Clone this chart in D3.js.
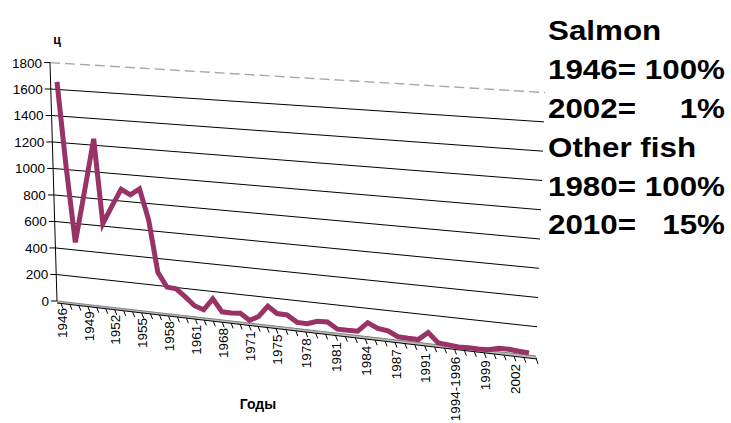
<!DOCTYPE html>
<html>
<head>
<meta charset="utf-8">
<script src="https://cdn.jsdelivr.net/npm/d3@7"></script>
<style>
  body { margin: 0; background: #fff; }
  text { font-family: "Liberation Sans", Arial, sans-serif; }
</style>
</head>
<body>
<script>
// категории (годы) и улов лосося, ц
const categories = ["1946","1947","1948","1949","1950","1951","1952","1953","1954","1955",
  "1956","1957","1958","1959","1960","1961","1963","1965","1968","1969",
  "1970","1971","1972","1974","1975","1976","1977","1978","1979","1980",
  "1981","1982","1983","1984","1985","1986","1987","1988","1990","1991",
  "1992","1993","1994-1996","1997","1998","1999","2000","2001","2002","2003"];
const salmon = [1680,1040,480,870,1270,640,780,910,875,925,
  700,320,218,212,160,103,81,168,81,80,
  85,42,77,159,113,111,66,64,90,93,
  50,50,52,120,88,79,45,42,41,99,
  33,28,22,25,23,27,44,45,40,36];
const yTicks = [0,200,400,600,800,1000,1200,1400,1600,1800];
const noteLeft = ["Salmon","1946=","2002=","Other fish","1980=","2010="];
const noteRight = ["","100%","1%","","100%","15%"];

const W = 731, H = 423;
const svg = d3.select("body").append("svg").attr("width", W).attr("height", H);

// "3D" perspective: wall gets taller and lower toward the right
const xCat = d3.scaleLinear().domain([0, 24, 49]).range([57, 277, 529]);
const xLab = d3.scaleLinear().domain([0, 24, 48]).range([62, 277, 515]);
const baseY = d3.scaleLinear().domain([57, 536]).range([301, 356]);
const topY = d3.scaleLinear().domain([57, 536]).range([63, 92]);
const frontY = d3.scaleLinear().domain([57, 537]).range([303, 359]);
const labY = d3.scaleLinear().domain([62, 515]).range([308, 364]);
const xLeft = d3.scaleLinear().domain([0, 1800]).range([57, 50]);
const xRight = d3.scaleLinear().domain([0, 1800]).range([536, 545]);
const yAt = x => d3.scaleLinear().domain([0, 1800]).range([baseY(x), topY(x)]);
const depth = 3;

// линии сетки на задней стенке
svg.append("g").selectAll("line")
  .data(yTicks.filter(v => v > 0))
  .join("line")
  .attr("x1", v => xLeft(v))
  .attr("y1", v => yAt(xLeft(v))(v))
  .attr("x2", v => xRight(v))
  .attr("y2", v => yAt(xRight(v))(v))
  .attr("stroke", v => v === 1800 ? "#a8a8a8" : "#000")
  .attr("stroke-width", v => v === 1800 ? 1.4 : 1)
  .attr("stroke-dasharray", v => v === 1800 ? "10,5" : null);

// пол
svg.append("polygon")
  .attr("points", [[xLeft(0), baseY(57)], [536, baseY(536)], [537, frontY(537)], [57, frontY(57)]].join(" "))
  .attr("fill", "#bdbdbd");
svg.append("line")
  .attr("x1", xLeft(0)).attr("y1", baseY(57)).attr("x2", 536).attr("y2", baseY(536))
  .attr("stroke", "#808080");
svg.append("line")
  .attr("x1", 57).attr("y1", frontY(57)).attr("x2", 537).attr("y2", frontY(537))
  .attr("stroke", "#000");

// ось Y
svg.append("line")
  .attr("x1", xLeft(0)).attr("y1", yAt(xLeft(0))(0))
  .attr("x2", xLeft(1800)).attr("y2", yAt(xLeft(1800))(1800))
  .attr("stroke", "#000");
const yt = svg.append("g").selectAll("g").data(yTicks).join("g");
yt.append("line")
  .attr("x1", v => xLeft(v) - 6).attr("x2", v => xLeft(v))
  .attr("y1", v => yAt(xLeft(v))(v)).attr("y2", v => yAt(xLeft(v))(v))
  .attr("stroke", "#000");
yt.append("text")
  .attr("x", v => xLeft(v) - 8)
  .attr("y", v => yAt(xLeft(v))(v) + 5)
  .attr("text-anchor", "end")
  .attr("font-size", 13.5)
  .text(v => v);

svg.append("text").attr("x", 57).attr("y", 44).attr("text-anchor", "middle")
  .attr("font-size", 12.5).attr("font-weight", "bold").text("ц");

// ось X: засечки и подписи
svg.append("g").selectAll("line")
  .data(d3.range(categories.length))
  .join("line")
  .attr("x1", i => xLab(i) - 1).attr("y1", i => frontY(xLab(i)))
  .attr("x2", i => xLab(i) + 1).attr("y2", i => frontY(xLab(i)) + 5)
  .attr("stroke", "#000");
svg.append("line")
  .attr("x1", 536).attr("y1", frontY(537) - 1).attr("x2", 538).attr("y2", frontY(537) + 5)
  .attr("stroke", "#000");

svg.append("g").selectAll("text")
  .data(categories.map((c, i) => ({c, i})).filter(d => d.i % 3 === 0))
  .join("text")
  .attr("transform", d => `translate(${xLab(d.i)},${labY(xLab(d.i))}) rotate(-90)`)
  .attr("dy", "0.35em")
  .attr("text-anchor", "end")
  .attr("font-size", 13.5)
  .text(d => d.c);

svg.append("text").attr("x", 258).attr("y", 409).attr("text-anchor", "middle")
  .attr("font-size", 14).attr("font-weight", "bold").text("Годы");

// линия улова
const line = d3.line()
  .x((d, i) => xCat(i))
  .y((d, i) => yAt(xCat(i))(d) + depth);
svg.append("path")
  .datum(salmon)
  .attr("d", line)
  .attr("fill", "none")
  .attr("stroke", "#993366")
  .attr("stroke-width", 5)
  .attr("stroke-linejoin", "miter");

// текстовый блок справа
const rowY = [40, 79, 118, 157, 196, 234];
svg.append("rect").attr("x", 546).attr("y", 8).attr("width", 185).attr("height", 236).attr("fill", "#fff");
noteLeft.forEach((t, k) => {
  svg.append("text")
    .attr("transform", `translate(548,${rowY[k]}) scale(1.12,1)`)
    .attr("font-size", 28).attr("font-weight", "bold").text(t);
  if (noteRight[k]) {
    svg.append("text")
      .attr("transform", `translate(725,${rowY[k]}) scale(1.12,1)`)
      .attr("text-anchor", "end")
      .attr("font-size", 28).attr("font-weight", "bold").text(noteRight[k]);
  }
});
</script>
</body>
</html>
